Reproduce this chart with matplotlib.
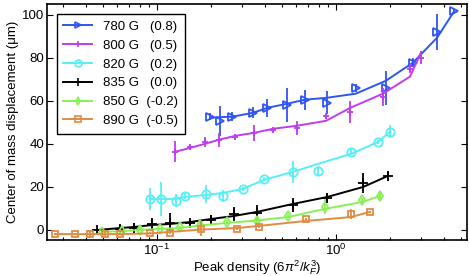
import matplotlib
matplotlib.use("Agg")
import matplotlib.pyplot as plt

plt.rcParams['font.family'] = ['Liberation Sans', 'DejaVu Sans']
plt.rcParams['mathtext.fontset'] = 'custom'
plt.rcParams['mathtext.rm'] = 'Liberation Sans'
plt.rcParams['mathtext.it'] = 'Liberation Sans:italic'

labels = ["780 G   (0.8)", "800 G   (0.5)", "820 G   (0.2)",
          "835 G   (0.0)", "850 G  (-0.2)", "890 G  (-0.5)"]
colores = ["#2f55f2", "#c03cf0", "#55f0f5", "black", "#88f055", "#e08c45"]
marcas = [">", "+", "o", "+", "d", "s"]

# 780 G
x_780 = [0.198, 0.225, 0.263, 0.344, 0.412, 0.532, 0.671, 0.891, 1.29, 1.90, 2.69, 3.67, 4.56]
y_780 = [52.6, 50.7, 52.6, 54.4, 56.7, 58.1, 60.5, 59.1, 66.0, 66.0, 77.7, 92.0, 101.5]
e_780 = [1.5, 7.0, 2.0, 2.5, 4.3, 8.0, 4.6, 5.3, 2.0, 8.0, 2.0, 8.4, 1.0]
l_780 = [52.1, 52.4, 52.6, 54.4, 56.7, 58.6, 60.5, 61.4, 63.3, 69.3, 77.7, 89.3, 101.4]

# 800 G
x_800 = [0.126, 0.153, 0.185, 0.222, 0.273, 0.348, 0.445, 0.606, 0.880, 1.20, 1.83, 2.59, 2.98]
y_800 = [36.3, 38.6, 40.9, 41.9, 43.3, 45.1, 46.5, 47.4, 53.0, 54.9, 61.9, 74.9, 80.0]
e_800 = [4.9, 1.0, 2.3, 3.3, 1.5, 3.7, 1.0, 3.3, 1.4, 5.0, 4.2, 2.0, 3.0]
l_800 = [36.3, 38.1, 40.0, 41.9, 43.7, 45.1, 47.0, 48.4, 50.7, 56.7, 63.3, 71.2, 82.3]

# 820 G
x_820 = [0.0914, 0.105, 0.128, 0.143, 0.188, 0.234, 0.302, 0.396, 0.575, 0.793, 1.21, 1.72, 2.00]
y_820 = [14.4, 14.4, 13.5, 15.8, 16.7, 15.8, 19.1, 23.7, 27.0, 27.4, 36.3, 40.9, 45.6]
e_820 = [5.0, 8.0, 3.0, 1.5, 4.0, 3.0, 1.0, 1.0, 5.0, 2.0, 1.5, 1.0, 3.0]
l_820 = [14.4, 14.4, 14.4, 15.3, 16.3, 17.2, 19.1, 23.3, 27.0, 30.7, 35.3, 40.9, 45.6]

# 835 G
x_835 = [0.0462, 0.0621, 0.0744, 0.0938, 0.118, 0.153, 0.200, 0.269, 0.362, 0.575, 0.891, 1.42, 1.95]
y_835 = [0.0, 0.5, 0.9, 2.8, 3.3, 3.3, 4.7, 7.4, 7.9, 11.6, 14.9, 21.9, 25.1]
e_835 = [0.5, 2.0, 2.3, 2.8, 4.7, 1.5, 2.3, 3.3, 3.5, 3.2, 2.3, 4.7, 2.3]
l_835 = [0.0, 0.9, 1.4, 2.3, 2.8, 3.7, 5.1, 6.5, 8.4, 12.1, 15.3, 20.0, 25.1]

# 850 G
x_850 = [0.0493, 0.0637, 0.0804, 0.104, 0.134, 0.174, 0.246, 0.362, 0.539, 0.868, 1.40, 1.76]
y_850 = [-0.9, -0.5, 0.2, 0.5, 1.2, 2.3, 3.7, 4.2, 6.5, 10.9, 14.0, 15.8]
e_850 = [0.5, 0.5, 0.5, 0.5, 0.5, 2.3, 1.0, 2.0, 1.0, 3.3, 1.0, 1.5]
l_850 = [-0.9, -0.5, 0.0, 0.5, 0.9, 2.1, 3.3, 4.4, 6.0, 9.8, 13.0, 15.8]

# 890 G
x_890 = [0.0269, 0.0348, 0.0423, 0.0512, 0.0621, 0.0914, 0.118, 0.176, 0.280, 0.372, 0.680, 1.21, 1.55]
y_890 = [-1.9, -1.9, -1.9, -1.9, -1.9, -1.4, -1.4, 0.5, 0.5, 1.4, 5.1, 7.4, 8.4]
e_890 = [0.5, 0.5, 1.8, 1.0, 0.5, 0.5, 0.5, 3.5, 0.5, 0.5, 0.5, 2.3, 0.5]
l_890 = [-1.9, -1.9, -1.9, -1.9, -1.9, -1.6, -0.9, 0.2, 0.9, 1.9, 4.2, 6.0, 8.4]

series = [(x_780, y_780, e_780, l_780), (x_800, y_800, e_800, l_800),
          (x_820, y_820, e_820, l_820), (x_835, y_835, e_835, l_835),
          (x_850, y_850, e_850, l_850), (x_890, y_890, e_890, l_890)]

fig = plt.figure(figsize=(4.69, 2.76), dpi=100)
ax = fig.add_axes([0.100, 0.130, 0.896, 0.856])

handles = []
for (xs, ys, es, ls), c, m, lab in zip(series, colores, marcas, labels):
    ax.errorbar(xs, ys, yerr=es, fmt='none', ecolor=c, elinewidth=1.3, capsize=0)
    ms = 6 if m in (">", "o") else 5
    if m == "+":
        ms = 7 if c == "black" else 5
    ax.plot(xs, ys, linestyle='none', marker=m, ms=ms, mfc='none', mec=c, mew=1.3)
    ax.plot(xs, ls, color=c, lw=1.4)
    handles.append(plt.Line2D([], [], color=c, lw=1.4, marker=m, ms=ms - 1,
                              mfc='none', mec=c, mew=1.2))

ax.set_xscale('log')
ax.set_xlim(0.0243, 5.4)
ax.set_ylim(-4.7, 105)
ax.set_yticks([0, 20, 40, 60, 80, 100])
ax.tick_params(which='both', direction='in', top=True, right=True, labelsize=9.5, pad=2)
ax.tick_params(which='major', length=4, width=0.8)
ax.tick_params(which='minor', length=2.5, width=0.8)
for s in ax.spines.values():
    s.set_linewidth(1.2)

ax.set_xlabel(r'Peak density (6$\pi^2$/$k_F^3$)', fontsize=9.5, labelpad=0)
ax.set_ylabel('Center of mass displacement (μm)', fontsize=9.5, labelpad=2)

leg = ax.legend(handles, labels, loc='upper left', fontsize=9.5, frameon=True,
                fancybox=False, edgecolor='black', framealpha=1,
                handlelength=2.2, labelspacing=0.5, borderpad=0.5,
                bbox_to_anchor=(0.008, 0.985))
leg.get_frame().set_linewidth(1.0)

fig.savefig('out.png', dpi=100)
